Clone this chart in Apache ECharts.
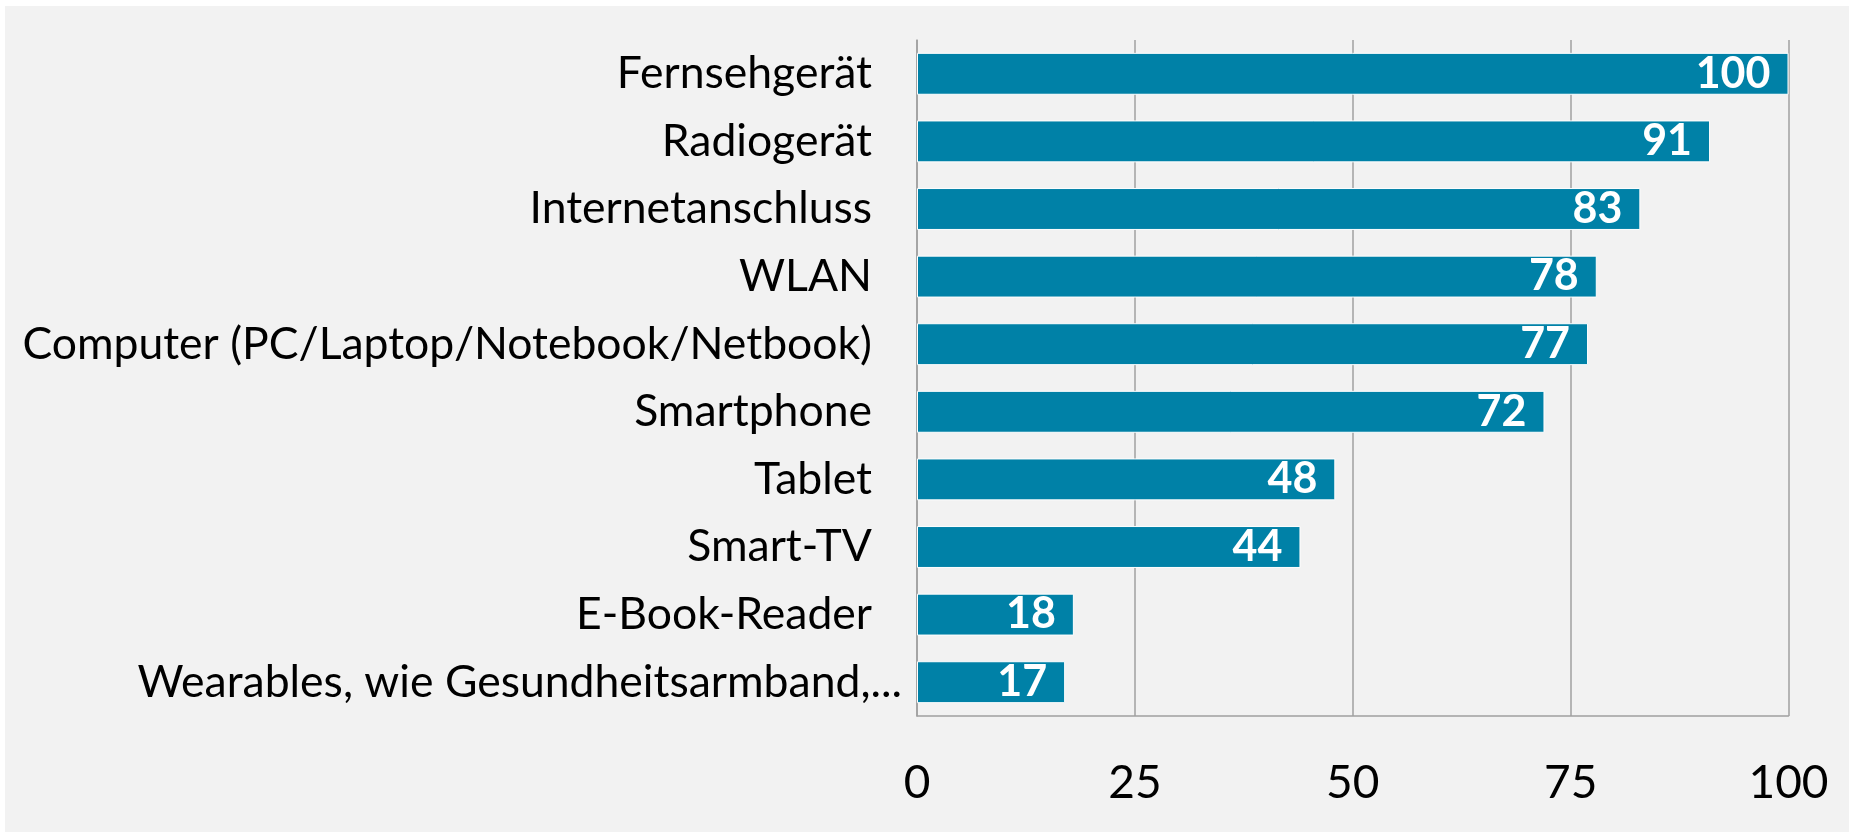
<!DOCTYPE html>
<html>
<head>
<meta charset="utf-8">
<script src="https://cdn.jsdelivr.net/npm/echarts@6/dist/echarts.min.js"></script>
<style>
  html, body { margin: 0; padding: 0; background: #ffffff; }
  #chart { position: absolute; left: 5px; top: 6px; width: 1844px; height: 826px; }
</style>
</head>
<body>
<div id="chart"></div>
<script>
const categories = [
  "Fernsehgerät",
  "Radiogerät",
  "Internetanschluss",
  "WLAN",
  "Computer (PC/Laptop/Notebook/Netbook)",
  "Smartphone",
  "Tablet",
  "Smart-TV",
  "E-Book-Reader",
  "Wearables, wie Gesundheitsarmband,..."
];
const values = [100, 91, 83, 78, 77, 72, 48, 44, 18, 17];
const xTicks = [0, 25, 50, 75, 100];

const chart = echarts.init(document.getElementById('chart'), null, { renderer: 'canvas' });
const option = {
  backgroundColor: '#f2f2f2',
  animation: false,
  grid: { left: 912, right: 60.5, top: 34, bottom: 116, containLabel: false },
  xAxis: {
    type: 'value',
    min: xTicks[0],
    max: xTicks[xTicks.length - 1],
    interval: 25,
    axisLine: { show: true, lineStyle: { color: '#a0a0a0', width: 1.5 } },
    axisTick: { show: false },
    splitLine: { show: true, lineStyle: { color: '#a0a0a0', width: 1.5 } },
    axisLabel: {
      color: '#000000',
      fontFamily: 'Lato',
      fontSize: 46,
      margin: 44
    }
  },
  yAxis: {
    type: 'category',
    inverse: true,
    data: categories,
    axisLine: { show: true, lineStyle: { color: '#a0a0a0', width: 1.5 } },
    axisTick: { show: false },
    splitLine: { show: false },
    axisLabel: {
      margin: 15,
      formatter: function (v, i) {
        return i === categories.length - 1 ? '{t|' + v + '}' : '{t|' + v + '}{sp|}';
      },
      rich: {
        t: { color: '#000000', fontFamily: 'Lato', fontSize: 44.5 },
        sp: { width: 30, height: 10 }
      }
    }
  },
  series: [{
    type: 'bar',
    data: values,
    barCategoryGap: '38%',
    itemStyle: { color: '#0081a7', borderColor: '#ffffff', borderWidth: 1 },
    label: {
      show: true,
      position: 'insideRight',
      distance: 18,
      color: '#ffffff',
      fontFamily: 'Lato',
      fontWeight: 'bold',
      fontSize: 43
    }
  }]
};
chart.setOption(option);
</script>
</body>
</html>
